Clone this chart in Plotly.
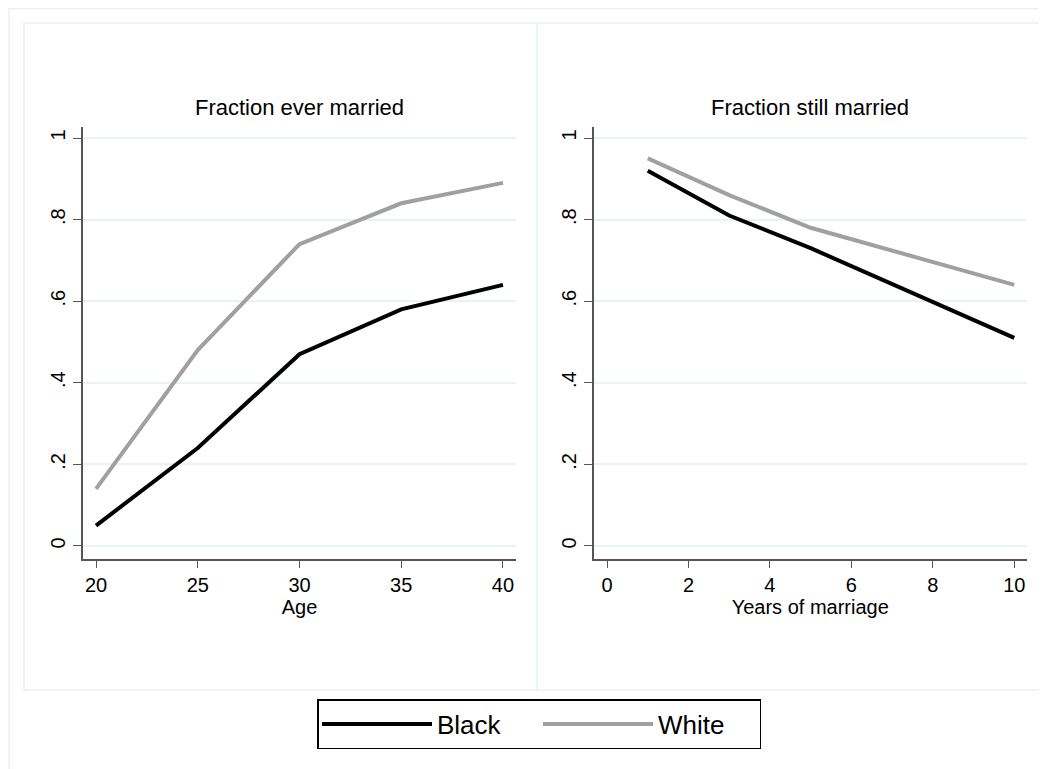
import plotly.graph_objects as go

# Fraction ever married, by age
ages = [20, 25, 30, 35, 40]
ever_black = [0.05, 0.24, 0.47, 0.58, 0.64]
ever_white = [0.14, 0.48, 0.74, 0.84, 0.89]

# Fraction still married, by years of marriage
years = [1, 3, 5, 10]
still_black = [0.92, 0.81, 0.73, 0.51]
still_white = [0.95, 0.86, 0.78, 0.64]

y_ticks = [0, 0.2, 0.4, 0.6, 0.8, 1]
y_labels = ["0", ".2", ".4", ".6", ".8", "1"]
panel_titles = ["Fraction ever married", "Fraction still married"]
x_titles = ["Age", "Years of marriage"]

W, H = 1047, 769
OFF = 8  # page margin around the figure
FONT = "Liberation Sans, Arial, Helvetica, sans-serif"
GRID = "#eaf2f3"
AXIS = "#555555"
BLACK = "#000000"
GRAY = "#a0a0a0"


def px(x):
    return (x - OFF) / W


def py(y):
    return 1 - (y - OFF) / H


fig = go.Figure()

fig.add_trace(go.Scatter(x=ages, y=ever_black, mode="lines", name="Black",
                         line=dict(color=BLACK, width=4), xaxis="x", yaxis="y",
                         legendgroup="b"))
fig.add_trace(go.Scatter(x=ages, y=ever_white, mode="lines", name="White",
                         line=dict(color=GRAY, width=4), xaxis="x", yaxis="y",
                         legendgroup="w"))
fig.add_trace(go.Scatter(x=years, y=still_black, mode="lines", name="Black",
                         line=dict(color=BLACK, width=4), xaxis="x2", yaxis="y2",
                         legendgroup="b", showlegend=False))
fig.add_trace(go.Scatter(x=years, y=still_white, mode="lines", name="White",
                         line=dict(color=GRAY, width=4), xaxis="x2", yaxis="y2",
                         legendgroup="w", showlegend=False))

xax = dict(showline=True, linecolor=AXIS, linewidth=1.5, ticks="outside",
           ticklen=7, tickwidth=1.2, tickcolor=AXIS, showgrid=False,
           zeroline=False, tickfont=dict(size=20, color="black"),
           title=dict(font=dict(size=20, color="black"), standoff=2))
yax = dict(showline=True, linecolor=AXIS, linewidth=1.5, ticks="outside",
           ticklen=8, tickwidth=1.2, tickcolor=AXIS, showgrid=True,
           gridcolor=GRID, gridwidth=1.5, zeroline=False,
           tickvals=y_ticks, ticktext=y_labels, tickangle=-90,
           tickfont=dict(size=20, color="black"), range=[-0.032, 1.027],
           domain=[py(559), py(127)])

fig.update_layout(
    width=W, height=H, autosize=False,
    margin=dict(l=0, r=0, t=0, b=0),
    paper_bgcolor="white", plot_bgcolor="white",
    font=dict(family=FONT, color="black"),
    xaxis=dict(xax, domain=[px(83), px(516)], range=[19.36, 40.64],
               tickvals=ages, anchor="y", title_text=x_titles[0]),
    xaxis2=dict(xax, domain=[px(594), px(1026.5)], range=[-0.32, 10.3],
                tickvals=[0, 2, 4, 6, 8, 10], anchor="y2",
                title_text=x_titles[1]),
    yaxis=dict(yax, anchor="x"),
    yaxis2=dict(yax, anchor="x2"),
    legend=dict(orientation="h", x=px(539), xanchor="center", y=py(699),
                yanchor="top", bordercolor="black", borderwidth=1.5,
                font=dict(size=26), entrywidth=96, itemwidth=110,
                bgcolor="white"),
    showlegend=True,
)

# panel titles
for i, t in enumerate(panel_titles):
    xref = "x domain" if i == 0 else "x2 domain"
    fig.add_annotation(text=t, xref=xref, yref="paper", x=0.5, y=py(122),
                       xanchor="center", yanchor="bottom", showarrow=False,
                       font=dict(size=22, color="black"))

# graph region frames
frame = dict(type="rect", xref="paper", yref="paper",
             line=dict(color=GRID, width=1.5), fillcolor="rgba(0,0,0,0)",
             layer="below")
fig.add_shape(frame, x0=0.001, y0=0, x1=1, y1=0.999)
fig.add_shape(frame, x0=px(24), y0=py(690), x1=px(537), y1=py(23))
fig.add_shape(frame, x0=px(537), y0=py(690), x1=px(1046), y1=py(23))

fig.write_html("out.html")
